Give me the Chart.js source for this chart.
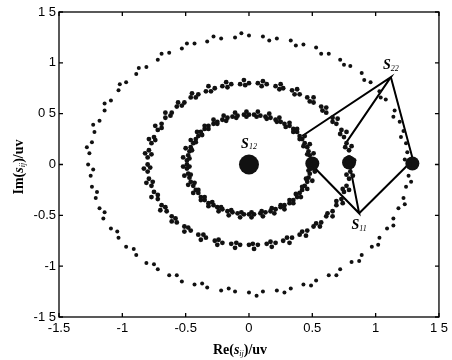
<!DOCTYPE html>
<html>
<head>
<meta charset="utf-8">
<script src="https://cdn.jsdelivr.net/npm/chart.js@4.4.1/dist/chart.umd.min.js"></script>
<style>body{margin:0;background:#fff}</style>
</head>
<body>
<canvas id="c" width="452" height="360"></canvas>
<script>
// axis ticks (labels as printed, some decimal points lost in the scan)
const xTicks = [-1.5, -1, -0.5, 0, 0.5, 1, 1.5];
const xTickLabels = ["-1.5", "-1", "-0.5", "0", "0.5", "1", "1 5"];
const yTicks = [-1.5, -1, -0.5, 0, 0.5, 1, 1.5];
const yTickLabels = ["-1 5", "-1", "-0.5", "0", "0 5", "1", "1 5"];

// outer ring (|s| ~ 1.26)
const outerRing = [
  [1.27,0.00],[1.25,0.12],[1.24,0.21],[1.22,0.33],[1.19,0.42],[1.15,0.53],[1.08,0.64],[1.03,0.72],[0.96,0.81],
  [0.89,0.90],[0.80,0.97],[0.72,1.03],[0.63,1.09],[0.53,1.15],[0.43,1.18],[0.33,1.22],[0.22,1.24],[0.11,1.26],
  [0.00,1.27],[-0.11,1.25],[-0.22,1.24],[-0.33,1.21],[-0.43,1.19],[-0.53,1.14],[-0.63,1.10],[-0.72,1.03],[-0.81,0.96],
  [-0.89,0.89],[-0.97,0.81],[-1.03,0.73],[-1.09,0.63],[-1.14,0.53],[-1.18,0.43],[-1.22,0.32],[-1.24,0.22],[-1.26,0.11],
  [-1.27,0.00],[-1.25,-0.11],[-1.24,-0.22],[-1.21,-0.33],[-1.18,-0.43],[-1.15,-0.53],[-1.09,-0.63],[-1.03,-0.72],[-0.97,-0.81],
  [-0.89,-0.89],[-0.81,-0.97],[-0.72,-1.03],[-0.63,-1.09],[-0.53,-1.15],[-0.43,-1.18],[-0.33,-1.21],[-0.22,-1.24],[-0.11,-1.25],
  [0.00,-1.26],[0.11,-1.25],[0.22,-1.24],[0.33,-1.22],[0.43,-1.18],[0.53,-1.14],[0.63,-1.09],[0.72,-1.03],[0.81,-0.96],
  [0.89,-0.89],[0.97,-0.81],[1.03,-0.72],[1.09,-0.63],[1.14,-0.53],[1.18,-0.43],[1.22,-0.33],[1.24,-0.22],[1.26,-0.11],
  [1.23,0.05],[1.20,0.27],[1.14,0.47],[1.04,0.66],[0.91,0.83],[0.75,0.98],[0.57,1.09],[0.37,1.17],[0.16,1.22],
  [-0.06,1.29],[-0.28,1.26],[-0.49,1.19],[-0.69,1.09],[-0.87,0.95],[-1.02,0.79],[-1.14,0.60],[-1.23,0.39],[-1.28,0.17],
  [-1.23,-0.05],[-1.20,-0.27],[-1.14,-0.47],[-1.04,-0.66],[-0.91,-0.83],[-0.75,-0.98],[-0.57,-1.09],[-0.37,-1.17],[-0.16,-1.22],
  [0.06,-1.29],[0.28,-1.26],[0.49,-1.19],[0.69,-1.09],[0.87,-0.95],[1.02,-0.79],[1.14,-0.60],[1.23,-0.39],[1.28,-0.17]
];

// middle ring (|s| ~ 0.80)
const middleRing = [
  [0.80,0.00],[0.79,0.07],[0.79,0.14],[0.77,0.21],[0.75,0.27],[0.73,0.34],[0.69,0.40],[0.66,0.46],[0.61,0.51],
  [0.57,0.57],[0.51,0.61],[0.46,0.66],[0.40,0.69],[0.34,0.73],[0.27,0.75],[0.21,0.77],[0.14,0.79],[0.07,0.80],
  [0.00,0.80],[-0.07,0.79],[-0.14,0.79],[-0.21,0.77],[-0.27,0.75],[-0.34,0.72],[-0.40,0.69],[-0.46,0.66],[-0.51,0.61],
  [-0.57,0.57],[-0.61,0.51],[-0.66,0.46],[-0.69,0.40],[-0.72,0.34],[-0.75,0.27],[-0.77,0.21],[-0.79,0.14],[-0.80,0.07],
  [-0.80,0.00],[-0.80,-0.07],[-0.79,-0.14],[-0.77,-0.21],[-0.75,-0.27],[-0.72,-0.34],[-0.69,-0.40],[-0.65,-0.46],[-0.61,-0.51],
  [-0.57,-0.57],[-0.51,-0.61],[-0.46,-0.65],[-0.40,-0.69],[-0.34,-0.72],[-0.27,-0.75],[-0.21,-0.77],[-0.14,-0.78],[-0.07,-0.79],
  [0.00,-0.79],[0.07,-0.79],[0.14,-0.78],[0.21,-0.77],[0.27,-0.75],[0.34,-0.72],[0.40,-0.69],[0.46,-0.65],[0.51,-0.61],
  [0.57,-0.57],[0.61,-0.51],[0.66,-0.46],[0.69,-0.40],[0.73,-0.34],[0.75,-0.27],[0.77,-0.21],[0.79,-0.14],[0.80,-0.07],
  [0.78,0.03],[0.76,0.17],[0.72,0.30],[0.66,0.42],[0.58,0.53],[0.48,0.62],[0.36,0.69],[0.24,0.74],[0.10,0.77],
  [0.83,0.04],[0.81,0.18],[0.77,0.32],[0.70,0.45],[0.61,0.56],[0.51,0.66],[0.38,0.74],[0.25,0.79],[0.11,0.82],
  [-0.04,0.83],[-0.18,0.81],[-0.32,0.77],[-0.45,0.70],[-0.56,0.61],[-0.66,0.51],[-0.74,0.38],[-0.79,0.25],[-0.82,0.11],
  [-0.03,0.78],[-0.17,0.76],[-0.30,0.72],[-0.42,0.66],[-0.53,0.58],[-0.62,0.48],[-0.69,0.36],[-0.74,0.24],[-0.77,0.10],
  [-0.78,-0.03],[-0.76,-0.17],[-0.72,-0.30],[-0.66,-0.42],[-0.58,-0.53],[-0.48,-0.62],[-0.36,-0.69],[-0.24,-0.74],[-0.10,-0.77],
  [-0.83,-0.04],[-0.81,-0.18],[-0.77,-0.32],[-0.70,-0.45],[-0.61,-0.56],[-0.51,-0.66],[-0.38,-0.74],[-0.25,-0.79],[-0.11,-0.82],
  [0.04,-0.83],[0.18,-0.81],[0.32,-0.77],[0.45,-0.70],[0.56,-0.61],[0.66,-0.51],[0.74,-0.38],[0.79,-0.25],[0.82,-0.11],
  [0.03,-0.78],[0.17,-0.76],[0.30,-0.72],[0.42,-0.66],[0.53,-0.58],[0.62,-0.48],[0.69,-0.36],[0.74,-0.24],[0.77,-0.10]
];

// inner ring (|s| ~ 0.49)
const innerRing = [
  [0.49,0.00],[0.49,0.04],[0.48,0.09],[0.47,0.13],[0.46,0.17],[0.44,0.21],[0.42,0.25],[0.40,0.28],[0.38,0.32],
  [0.35,0.35],[0.32,0.38],[0.28,0.40],[0.25,0.42],[0.21,0.44],[0.17,0.46],[0.13,0.47],[0.09,0.48],[0.04,0.49],
  [0.00,0.49],[-0.04,0.49],[-0.09,0.48],[-0.13,0.47],[-0.17,0.46],[-0.21,0.44],[-0.25,0.42],[-0.28,0.40],[-0.32,0.38],
  [-0.35,0.35],[-0.38,0.32],[-0.40,0.28],[-0.42,0.25],[-0.44,0.21],[-0.46,0.17],[-0.47,0.13],[-0.48,0.09],[-0.49,0.04],
  [-0.49,0.00],[-0.49,-0.04],[-0.48,-0.09],[-0.47,-0.13],[-0.46,-0.17],[-0.44,-0.21],[-0.42,-0.25],[-0.40,-0.28],[-0.38,-0.32],
  [-0.35,-0.35],[-0.32,-0.38],[-0.28,-0.40],[-0.25,-0.42],[-0.21,-0.44],[-0.17,-0.46],[-0.13,-0.47],[-0.09,-0.48],[-0.04,-0.49],
  [0.00,-0.49],[0.04,-0.49],[0.09,-0.48],[0.13,-0.47],[0.17,-0.46],[0.21,-0.44],[0.25,-0.42],[0.28,-0.40],[0.32,-0.38],
  [0.35,-0.35],[0.38,-0.32],[0.40,-0.28],[0.42,-0.25],[0.44,-0.21],[0.46,-0.17],[0.47,-0.13],[0.48,-0.09],[0.49,-0.04],
  [0.47,0.02],[0.46,0.10],[0.43,0.18],[0.40,0.25],[0.35,0.32],[0.29,0.37],[0.22,0.42],[0.14,0.45],[0.06,0.47],
  [0.52,0.02],[0.51,0.11],[0.48,0.20],[0.44,0.28],[0.38,0.35],[0.32,0.41],[0.24,0.46],[0.16,0.50],[0.07,0.52],
  [-0.02,0.52],[-0.11,0.51],[-0.20,0.48],[-0.28,0.44],[-0.35,0.38],[-0.41,0.32],[-0.46,0.24],[-0.50,0.16],[-0.52,0.07],
  [-0.02,0.47],[-0.10,0.46],[-0.18,0.43],[-0.25,0.40],[-0.32,0.35],[-0.37,0.29],[-0.42,0.22],[-0.45,0.14],[-0.47,0.06],
  [-0.47,-0.02],[-0.46,-0.10],[-0.43,-0.18],[-0.40,-0.25],[-0.35,-0.32],[-0.29,-0.37],[-0.22,-0.42],[-0.14,-0.45],[-0.06,-0.47],
  [-0.52,-0.02],[-0.51,-0.11],[-0.48,-0.20],[-0.44,-0.28],[-0.38,-0.35],[-0.32,-0.41],[-0.24,-0.46],[-0.16,-0.50],[-0.07,-0.52],
  [0.02,-0.52],[0.11,-0.51],[0.20,-0.48],[0.28,-0.44],[0.35,-0.38],[0.41,-0.32],[0.46,-0.24],[0.50,-0.16],[0.52,-0.07],
  [0.02,-0.47],[0.10,-0.46],[0.18,-0.43],[0.25,-0.40],[0.32,-0.35],[0.37,-0.29],[0.42,-0.22],[0.45,-0.14],[0.47,-0.06]
];

// dense clusters on the real axis
const centerCluster = [[0.00, 0.00]];
const axisClusters = [[0.50, 0.01], [0.79, 0.02], [1.29, 0.01]];

// connecting lines
const s22LineA = [[0.42, 0.28], [1.12, 0.86], [0.77, 0.22]];
const s22LineB = [[1.12, 0.86], [1.30, 0.02]];
const s11LineA = [[0.50, -0.01], [0.87, -0.48], [0.79, 0.03]];
const s11LineB = [[0.87, -0.48], [1.25, -0.01]];

// point labels: [x, y, subscript]
const pointLabels = [[0.00, 0.20, "12"], [1.12, 0.97, "22"], [0.87, -0.60, "11"]];

const xy = arr => arr.map(p => ({x: p[0], y: p[1]}));
const dots = (arr, r) => ({data: xy(arr), pointRadius: r, pointHoverRadius: r, backgroundColor: '#111', borderWidth: 0, showLine: false});
const line = arr => ({data: xy(arr), showLine: true, borderColor: '#000', borderWidth: 2, pointRadius: 0, fill: false});

function drawRich(ctx, parts, x, y){
  let w = 0;
  parts.forEach(p => { ctx.font = p.font; w += ctx.measureText(p.t).width; });
  let cx = x - w / 2;
  ctx.textAlign = 'left';
  ctx.textBaseline = 'middle';
  parts.forEach(p => {
    ctx.font = p.font;
    ctx.fillText(p.t, cx, y + (p.dy || 0));
    cx += ctx.measureText(p.t).width;
  });
}

const frame = {
  id: 'frame',
  afterDraw(chart){
    const ctx = chart.ctx, a = chart.chartArea;
    const sx = chart.scales.x, sy = chart.scales.y;
    ctx.save();
    ctx.strokeStyle = '#000';
    ctx.lineWidth = 1.3;
    ctx.strokeRect(a.left, a.top, a.right - a.left, a.bottom - a.top);
    // inward ticks
    ctx.beginPath();
    xTicks.forEach(v => {
      const px = sx.getPixelForValue(v);
      ctx.moveTo(px, a.bottom); ctx.lineTo(px, a.bottom - 4);
      ctx.moveTo(px, a.top); ctx.lineTo(px, a.top + 4);
    });
    yTicks.forEach(v => {
      const py = sy.getPixelForValue(v);
      ctx.moveTo(a.left, py); ctx.lineTo(a.left + 4, py);
      ctx.moveTo(a.right, py); ctx.lineTo(a.right - 4, py);
    });
    ctx.stroke();
    // S labels
    ctx.fillStyle = '#000';
    pointLabels.forEach(l => {
      drawRich(ctx, [
        {t: 'S', font: 'italic bold 14px "Liberation Serif", serif'},
        {t: l[2], font: 'italic 8px "Liberation Serif", serif', dy: 3}
      ], sx.getPixelForValue(l[0]), sy.getPixelForValue(l[1]));
    });
    // axis titles
    drawRich(ctx, [
      {t: 'Re(', font: 'bold 14px "Liberation Serif", serif'},
      {t: 's', font: 'italic bold 14px "Liberation Serif", serif'},
      {t: 'ij', font: 'italic 8px "Liberation Serif", serif', dy: 4},
      {t: ')/uv', font: 'bold 14px "Liberation Serif", serif'}
    ], 240, 350);
    ctx.translate(19, 167);
    ctx.rotate(-Math.PI / 2);
    drawRich(ctx, [
      {t: 'Im(', font: 'bold 14px "Liberation Serif", serif'},
      {t: 's', font: 'italic bold 14px "Liberation Serif", serif'},
      {t: 'ij', font: 'italic 8px "Liberation Serif", serif', dy: 4},
      {t: ')/uv', font: 'bold 14px "Liberation Serif", serif'}
    ], 0, 0);
    ctx.restore();
  }
};

const tickFont = {family: '"Liberation Sans", Arial, sans-serif', size: 13};

new Chart(document.getElementById('c').getContext('2d'), {
  type: 'scatter',
  data: {
    datasets: [
      dots(outerRing, 2),
      dots(middleRing, 2.4),
      dots(innerRing, 2.4),
      dots(centerCluster, 10),
      dots(axisClusters, 7),
      line(s22LineA), line(s22LineB), line(s11LineA), line(s11LineB)
    ]
  },
  options: {
    responsive: false,
    animation: false,
    layout: {padding: {left: 0, top: 12, right: 11, bottom: 0}},
    plugins: {legend: {display: false}, tooltip: {enabled: false}},
    scales: {
      x: {
        type: 'linear', min: -1.5, max: 1.5,
        afterBuildTicks: s => { s.ticks = xTicks.map(v => ({value: v})); },
        afterFit: s => { s.height = 43; },
        ticks: {callback: (v, i) => xTickLabels[i], color: '#000', font: tickFont, padding: 4, maxRotation: 0, autoSkip: false},
        grid: {display: false, drawTicks: false},
        border: {display: false}
      },
      y: {
        type: 'linear', min: -1.5, max: 1.5,
        afterBuildTicks: s => { s.ticks = yTicks.map(v => ({value: v})); },
        afterFit: s => { s.width = 59; },
        ticks: {callback: (v, i) => yTickLabels[i], color: '#000', font: tickFont, padding: 3, autoSkip: false},
        grid: {display: false, drawTicks: false},
        border: {display: false}
      }
    }
  },
  plugins: [frame]
});
</script>
</body>
</html>
